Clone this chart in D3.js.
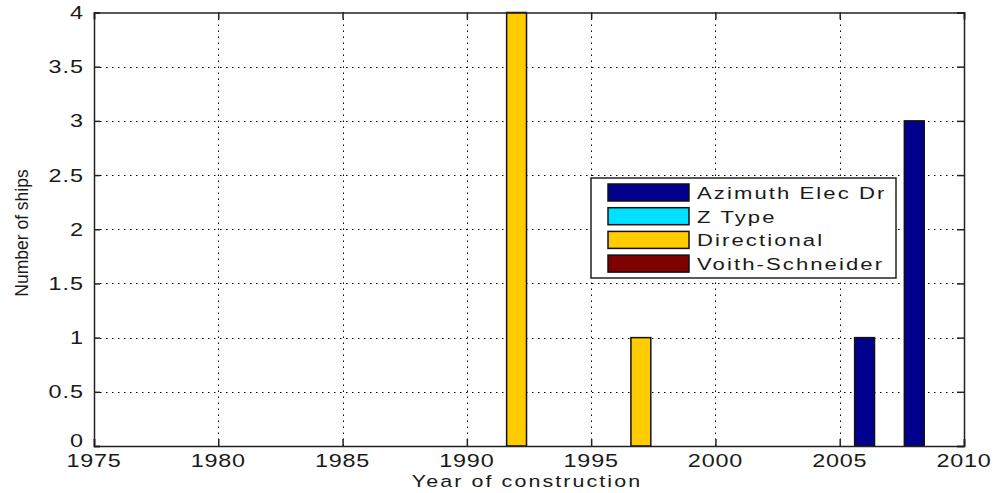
<!DOCTYPE html>
<html>
<head>
  <meta charset="utf-8">
  <style>
    body { margin: 0; background: #fff; }
    text { font-family: "Liberation Sans", Arial, sans-serif; fill: #1a1a1a; }
  </style>
  <title>Number of ships by year of construction</title>
</head>
<body>
<script src="https://cdn.jsdelivr.net/npm/d3@7"></script>
<script>
  // data
  var years = [1992, 1997, 2006, 2008];
  var seriesNames = ["Azimuth Elec Dr", "Z Type", "Directional", "Voith-Schneider"];
  var azimuthElec = [0, 0, 1, 3];
  var zType = [0, 0, 0, 0];
  var directional = [4, 1, 0, 0];
  var voith = [0, 0, 0, 0];
  var seriesColors = ["#00008c", "#00e0ff", "#ffcc00", "#800000"];
  var xTicks = [1975, 1980, 1985, 1990, 1995, 2000, 2005, 2010];
  var yTicks = [0, 0.5, 1, 1.5, 2, 2.5, 3, 3.5, 4];

  var W = 993, H = 493;
  var margin = {top: 12.5, right: 29, bottom: 47, left: 94};
  var barWidth = 0.8; // in years
  var stretch = 1.3;  // the reference font is drawn wide

  var svg = d3.select("body").append("svg")
      .attr("width", W)
      .attr("height", H);

  var x = d3.scaleLinear().domain([1975, 2010]).range([margin.left, W - margin.right]);
  var y = d3.scaleLinear().domain([0, 4]).range([H - margin.bottom, margin.top]);

  function wide(sel, px, py) {
    return sel.attr("transform", function(d, i) {
      var a = typeof px === "function" ? px(d, i) : px;
      var b = typeof py === "function" ? py(d, i) : py;
      return "translate(" + a + "," + b + ") scale(" + stretch + ",1)";
    });
  }

  // table for the stack
  var table = years.map(function(yr, i) {
    return {year: yr, "Azimuth Elec Dr": azimuthElec[i], "Z Type": zType[i],
            "Directional": directional[i], "Voith-Schneider": voith[i]};
  });
  var stacked = d3.stack().keys(seriesNames)(table);

  // dotted grid
  var grid = svg.append("g")
      .attr("stroke", "#000")
      .attr("stroke-width", 1)
      .attr("stroke-dasharray", "1.5,4.5");
  grid.selectAll(".vg").data(xTicks.slice(1, -1)).enter().append("line")
      .attr("x1", function(d) { return Math.round(x(d)) + 0.5; })
      .attr("x2", function(d) { return Math.round(x(d)) + 0.5; })
      .attr("y1", y(0)).attr("y2", y(4));
  grid.selectAll(".hg").data(yTicks.slice(1, -1)).enter().append("line")
      .attr("y1", function(d) { return Math.round(y(d)) + 0.5; })
      .attr("y2", function(d) { return Math.round(y(d)) + 0.5; })
      .attr("x1", x(1975)).attr("x2", x(2010));

  // bars
  var layers = svg.selectAll(".layer").data(stacked).enter().append("g")
      .attr("fill", function(d, i) { return seriesColors[i]; })
      .attr("stroke", "#111")
      .attr("stroke-width", 1.5);
  layers.selectAll("rect")
      .data(function(d) { return d.filter(function(p) { return p[1] - p[0] > 0; }); })
      .enter().append("rect")
      .attr("x", function(d) { return x(d.data.year - barWidth / 2); })
      .attr("width", function(d) { return x(d.data.year + barWidth / 2) - x(d.data.year - barWidth / 2); })
      .attr("y", function(d) { return y(d[1]); })
      .attr("height", function(d) { return y(d[0]) - y(d[1]); });

  // axes box and inward ticks
  var xAxisB = d3.axisBottom(x).tickValues(xTicks).tickSize(-7).tickFormat("");
  var xAxisT = d3.axisTop(x).tickValues(xTicks).tickSize(-7).tickFormat("");
  var yAxisL = d3.axisLeft(y).tickValues(yTicks).tickSize(-6).tickFormat("");
  var yAxisR = d3.axisRight(y).tickValues(yTicks).tickSize(-7).tickFormat("");

  svg.append("g").attr("transform", "translate(0," + y(0) + ")").call(xAxisB);
  svg.append("g").attr("transform", "translate(0," + y(4) + ")").call(xAxisT);
  svg.append("g").attr("transform", "translate(" + x(1975) + ",0)").call(yAxisL);
  svg.append("g").attr("transform", "translate(" + x(2010) + ",0)").call(yAxisR);
  svg.selectAll(".domain, .tick line").attr("stroke", "#222").attr("stroke-width", 1.5);

  // tick labels
  wide(svg.append("g").selectAll("text").data(xTicks).enter().append("text"),
       function(d) { return x(d); }, y(0) + 21)
      .attr("text-anchor", "middle")
      .attr("font-size", "18px")
      .attr("letter-spacing", "0.6px")
      .text(function(d) { return d; });

  wide(svg.append("g").selectAll("text").data(yTicks).enter().append("text"),
       x(1975) - 10, function(d) { return d === 0 ? y(d) + 1 : y(d) + 6.5; })
      .attr("text-anchor", "end")
      .attr("font-size", "18px")
      .attr("letter-spacing", "0.8px")
      .text(function(d) { return d; });

  // axis labels
  wide(svg.append("text"), (x(1975) + x(2010)) / 2 - 2, 487)
      .attr("text-anchor", "middle")
      .attr("font-size", "16.5px")
      .attr("letter-spacing", "1.6px")
      .text("Year of construction");

  svg.append("text")
      .attr("transform", "translate(28," + 233 + ") rotate(-90)")
      .attr("text-anchor", "middle")
      .attr("font-size", "17.5px")
      .text("Number of ships");

  // legend
  var legend = svg.append("g").attr("transform", "translate(591,178)");
  legend.append("rect")
      .attr("width", 305).attr("height", 100)
      .attr("fill", "#fff").attr("stroke", "#222").attr("stroke-width", 1.5);
  var item = legend.selectAll(".item").data(seriesNames).enter().append("g")
      .attr("transform", function(d, i) { return "translate(0," + (6 + i * 23.7) + ")"; });
  item.append("rect")
      .attr("x", 17).attr("width", 81).attr("height", 17)
      .attr("fill", function(d, i) { return seriesColors[i]; })
      .attr("stroke", "#111").attr("stroke-width", 1.5);
  wide(item.append("text"), 106, 15)
      .attr("font-size", "17px")
      .attr("letter-spacing", "1.6px")
      .text(function(d) { return d; });
</script>
</body>
</html>
